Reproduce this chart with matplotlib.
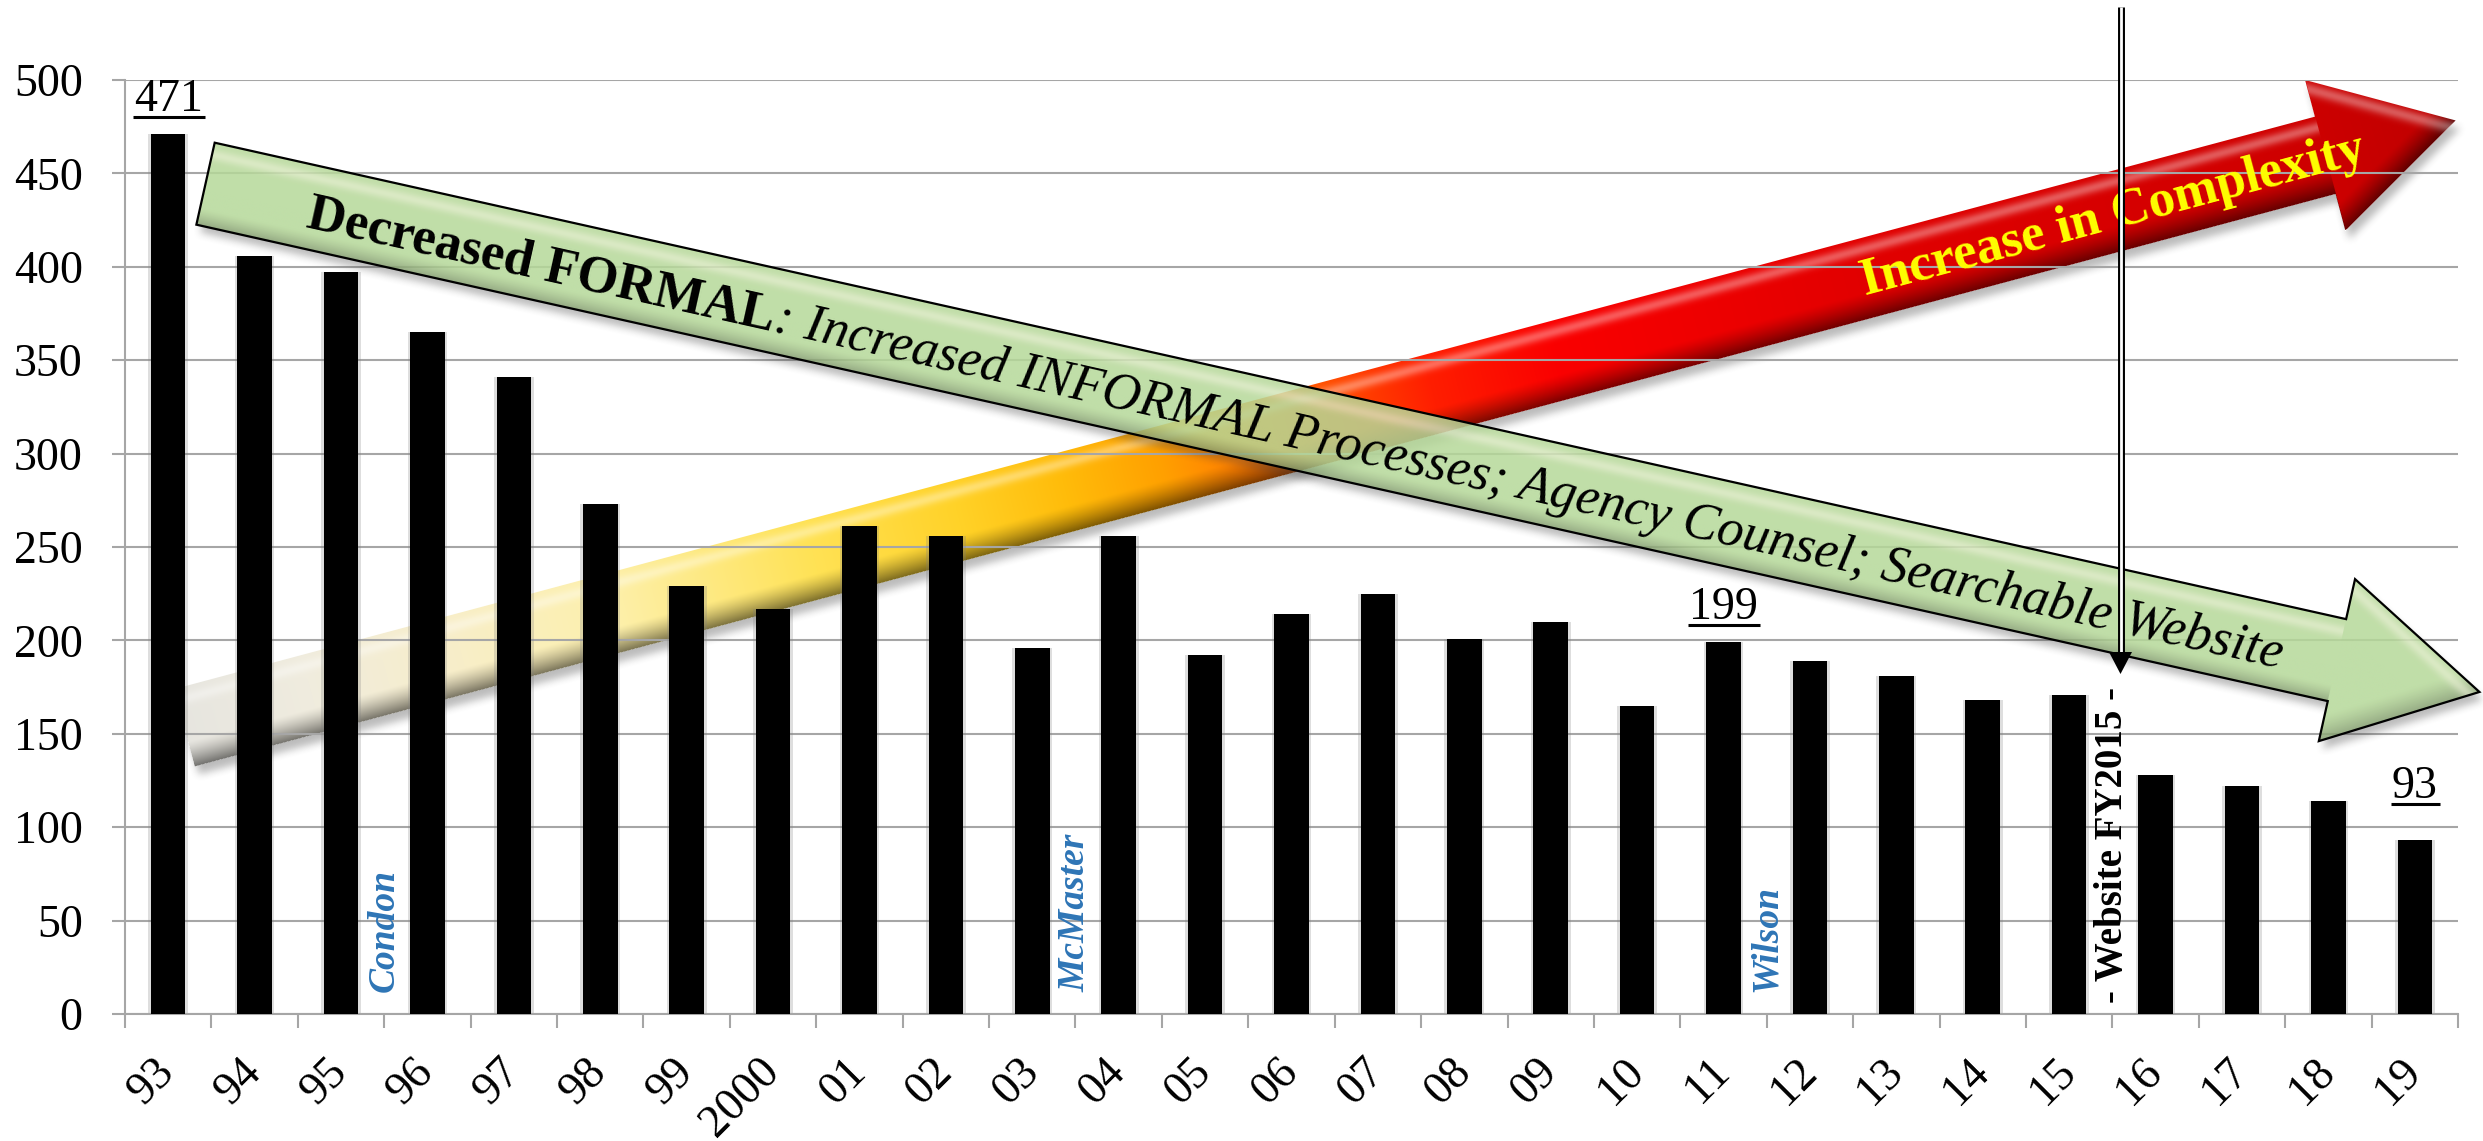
import numpy as np
import matplotlib
matplotlib.use('Agg')
import matplotlib.pyplot as plt
from matplotlib.patches import Polygon
from matplotlib.path import Path
from matplotlib.transforms import Affine2D

# ---------------- data ----------------
years = ['93', '94', '95', '96', '97', '98', '99', '2000', '01', '02', '03', '04', '05',
         '06', '07', '08', '09', '10', '11', '12', '13', '14', '15', '16', '17', '18', '19']
counts = [471, 406, 397, 365, 341, 273, 229, 217, 261, 256, 196, 256, 192,
          214, 225, 201, 210, 165, 199, 189, 181, 168, 171, 128, 122, 114, 93]
labeled_years = ['93', '11', '19']
era_names = ['Condon', 'McMaster', 'Wilson']
era_first_year = ['96', '04', '12']
website_first_year = '16'
website_label = '- Website FY2015 -'
green_bold = 'Decreased FORMAL'
green_italic = ': Increased INFORMAL Processes; Agency Counsel; Searchable Website'
red_label = 'Increase in Complexity'
yticks = list(range(0, 501, 50))

# ---------------- figure ----------------
W, H, DPI = 2483, 1141, 100
plt.rcParams['font.family'] = ['Liberation Serif', 'DejaVu Serif']
fig = plt.figure(figsize=(W / DPI, H / DPI), dpi=DPI, facecolor='white')

ax_bg = fig.add_axes([0, 0, 1, 1], zorder=0, label='bg')
ax = fig.add_axes([125 / W, 1 - 1014 / H, (2458 - 125) / W, (1014 - 80) / H], zorder=1, label='main')
ax_fg = fig.add_axes([0, 0, 1, 1], zorder=2, label='fg')
ax.patch.set_alpha(0)

GRID = '#A6A6A6'
x = np.arange(len(years))
ax.bar(x, counts, width=0.46, color='#7f7f7f', alpha=0.25, zorder=2)
ax.bar(x, counts, width=0.40, color='black', zorder=3)
ax.set_xlim(-0.5, len(years) - 0.5)
ax.set_ylim(0, 500)
ax.set_yticks(yticks)
ax.yaxis.grid(True, color=GRID, lw=1.5)
ax.set_axisbelow(True)
for sp in ['top', 'right']:
    ax.spines[sp].set_visible(False)
for sp in ['left', 'bottom']:
    ax.spines[sp].set_color(GRID)
    ax.spines[sp].set_linewidth(1.5)
ax.tick_params(axis='y', length=9.5, width=1.5, color=GRID, pad=21, labelsize=33)
ax.set_xticks(x)
ax.set_xticklabels(years, rotation=45, ha='right', va='center', rotation_mode='anchor')
ax.tick_params(axis='x', which='major', length=0, pad=37, labelsize=33)
ax.set_xticks(np.arange(-0.5, len(years), 1.0), minor=True)
ax.tick_params(axis='x', which='minor', length=10, width=1.5, color=GRID)

# value labels
label_offsets = {'93': 23, '11': 23, '19': 42}
value_texts = []
for yr in labeled_years:
    i = years.index(yr)
    off = label_offsets[yr]
    t = ax.annotate(str(counts[i]), (i, counts[i]), xytext=(0, off), textcoords='offset pixels',
                    ha='center', va='baseline', fontsize=33, zorder=5)
    value_texts.append((t, i, counts[i], off))

# era names
for name, yr in zip(era_names, era_first_year):
    xb = years.index(yr) - 0.5
    ax.text(xb, 12, name, rotation=90, ha='center', va='bottom', color='#2E75B6',
            fontsize=27, fontweight='bold', fontstyle='italic', zorder=5)

xw = years.index(website_first_year) - 0.5
ax.text(xw, 6, website_label, rotation=90, ha='center', va='bottom', color='black',
        fontsize=28, fontweight='bold', zorder=5)

# ---------------- decorative arrows (pixel coords) ----------------
for a in (ax_bg, ax_fg):
    a.axis('off')

YY, XX = np.mgrid[0:H, 0:W]
PIX = np.column_stack([XX.ravel() + 0.5, YY.ravel() + 0.5])


def box_blur(img, r):
    for axis in (0, 1):
        c = np.cumsum(np.pad(img, [(r + 1, r) if k == axis else (0, 0) for k in (0, 1)]), axis=axis)
        if axis == 0:
            img = (c[2 * r + 1:, :] - c[:-2 * r - 1, :]) / (2 * r + 1)
        else:
            img = (c[:, 2 * r + 1:] - c[:, :-2 * r - 1]) / (2 * r + 1)
    return img


def lerp_stops(pos, stops):
    ss = np.array([p for p, _ in stops], float)
    cs = np.array([c for _, c in stops], float) / 255.0
    return np.stack([np.interp(pos, ss, cs[:, k]) for k in range(3)], axis=-1)


def arrow_rgba(s0, s1, sh, w, hb, tip, stops, hl_col, hl_amt, dk_amt, dk_start, alpha):
    t0, t1 = -hb, w + hb
    s = np.arange(s0, s1, 1.0) + 0.5
    t = np.arange(t0, t1, 1.0) + 0.5
    SS, TT = np.meshgrid(s, t)
    base = lerp_stops(SS, stops)
    tn = TT / w
    hl = hl_amt * np.exp(-((tn - 0.15) / 0.07) ** 2)
    dk = dk_amt * np.clip((tn - dk_start) / (1 - dk_start), 0, 1) ** 1.3
    Ax, Ay = sh, -hb
    Tx, Ty = tip, w / 2
    Bx, By = sh, w + hb
    d_up = np.abs((Tx - Ax) * (TT - Ay) - (Ty - Ay) * (SS - Ax)) / np.hypot(Tx - Ax, Ty - Ay)
    d_lo = np.abs((Bx - Tx) * (TT - Ty) - (By - Ty) * (SS - Tx)) / np.hypot(Bx - Tx, By - Ty)
    head = SS >= sh
    hl = np.where(head, hl_amt * np.exp(-((d_up - 9) / 6) ** 2), hl)
    dk = np.where(head, dk_amt * np.clip(1 - d_lo / 24, 0, 1) ** 1.3, dk)
    col = base * (1 - dk[..., None])
    hc = np.array(hl_col, float) / 255.0
    col = col + (hc - col) * hl[..., None]
    rgba = np.concatenate([col, np.full(SS.shape + (1,), alpha)], axis=-1)
    return rgba, (s0, s1, t0, t1)


def draw_arrow(axx, origin, ang_deg, s0, sh, w, hb, tip, stops, hl_col, hl_amt, dk_amt,
               dk_start, alpha, edge=None, z=1, shadow_off=(4, 8), shadow_alpha=0.35):
    a = np.deg2rad(ang_deg)
    ux, uy = np.cos(a), np.sin(a)      # pixel coords, y down
    nx, ny = -np.sin(a), np.cos(a)
    M = np.array([[ux, nx, origin[0]], [uy, ny, origin[1]], [0, 0, 1]])
    local = Affine2D(M)
    pts = [(s0, 0), (sh, 0), (sh, -hb), (tip, w / 2), (sh, w + hb), (sh, w), (s0, w)]
    # soft drop shadow, only outside the arrow body
    pix_pts = local.transform(pts)
    mask = Path(pix_pts).contains_points(PIX).reshape(H, W).astype(float)
    sh_mask = Path(pix_pts + np.array(shadow_off)).contains_points(PIX).reshape(H, W).astype(float)
    sh_mask = box_blur(box_blur(sh_mask, 4), 4)
    sa = shadow_alpha * sh_mask * (1 - mask)
    shadow = np.zeros((H, W, 4))
    shadow[..., :3] = 0.25
    shadow[..., 3] = sa
    axx.imshow(shadow, extent=(0, W, H, 0), origin='upper', interpolation='nearest',
               aspect='auto', zorder=z)
    rgba, ext = arrow_rgba(s0, tip, sh, w, hb, tip, stops, hl_col, hl_amt, dk_amt, dk_start, alpha)
    im = axx.imshow(rgba, origin='lower', extent=ext, transform=local + axx.transData,
                    interpolation='bilinear', aspect='auto', zorder=z + 0.1)
    clip = Polygon(pts, closed=True, transform=local + axx.transData)
    im.set_clip_path(clip)
    if edge is not None:
        axx.add_patch(Polygon(pts, closed=True, facecolor='none', edgecolor=edge, lw=1.6,
                              transform=local + axx.transData, zorder=z + 0.2))
    return local


# red "complexity" arrow (behind the chart)
red_stops = [(-20, (230, 229, 224)), (120, (240, 236, 222)), (275, (248, 238, 200)),
             (430, (253, 240, 172)), (640, (255, 226, 85)), (790, (255, 210, 40)),
             (900, (255, 188, 10)), (1000, (255, 160, 0)), (1155, (255, 90, 0)),
             (1280, (255, 30, 0)), (1410, (250, 0, 0)), (1720, (226, 0, 0)),
             (2190, (206, 0, 0)), (2340, (190, 0, 0))]
red_local = draw_arrow(ax_bg, (185.7, 686.0), -14.97, -12, 2204, 80, 38, 2339, red_stops,
                       (255, 255, 255), 0.35, 0.5, 0.68, 1.0, edge=None, z=1)

# green "formal/informal" arrow (in front)
green_stops = [(0, (181, 216, 152)), (2400, (181, 216, 152))]
green_local = draw_arrow(ax_fg, (214.7, 142.7), 12.6, 0, 2184, 84, 41, 2330, green_stops,
                         (236, 240, 212), 0.55, 0.28, 0.80, 0.85, edge='black', z=1)

# text on red arrow
p = red_local.transform((1723, 56))
ax_fg.text(p[0], p[1], red_label, rotation=14.97, rotation_mode='anchor', ha='left',
           va='baseline', color='#FFFF00', fontsize=38, fontweight='bold', zorder=4)

# text on green arrow
renderer = fig.canvas.get_renderer()
tmp = ax_fg.text(0, 0, green_bold, fontsize=38, fontweight='bold')
wb = tmp.get_window_extent(renderer).width
tmp.remove()
p1 = green_local.transform((107, 62))
ax_fg.text(p1[0], p1[1], green_bold, rotation=-12.6, rotation_mode='anchor', ha='left',
           va='baseline', color='black', fontsize=38, fontweight='bold', zorder=4)
p2 = green_local.transform((107 + wb, 62))
ax_fg.text(p2[0], p2[1], green_italic, rotation=-12.6, rotation_mode='anchor', ha='left',
           va='baseline', color='black', fontsize=38, fontstyle='italic', zorder=4)

# double vertical pointer line with arrowhead
ax_fg.plot([2120.5, 2120.5], [7, 654], color='black', lw=5.0, solid_capstyle='butt', zorder=5)
ax_fg.plot([2120.5, 2120.5], [7, 652], color='white', lw=2.0, solid_capstyle='butt', zorder=5.1)
ax_fg.add_patch(Polygon([(2109, 652), (2132, 652), (2120.5, 674)], closed=True,
                        facecolor='black', edgecolor='none', zorder=5.2))

for a in (ax_bg, ax_fg):
    a.set_xlim(0, W)
    a.set_ylim(H, 0)

# underline the value labels
fig.canvas.draw()
for t, i, v, off in value_texts:
    bb = t.get_window_extent()
    base_y = ax.transData.transform((i, v))[1] + off
    yl = H - (base_y - 6)
    ax_fg.plot([bb.x0 - 1, bb.x1 + 2], [yl, yl], color='black', lw=2.2,
               solid_capstyle='butt', zorder=6)

fig.savefig('out.png', dpi=DPI, facecolor='white')
